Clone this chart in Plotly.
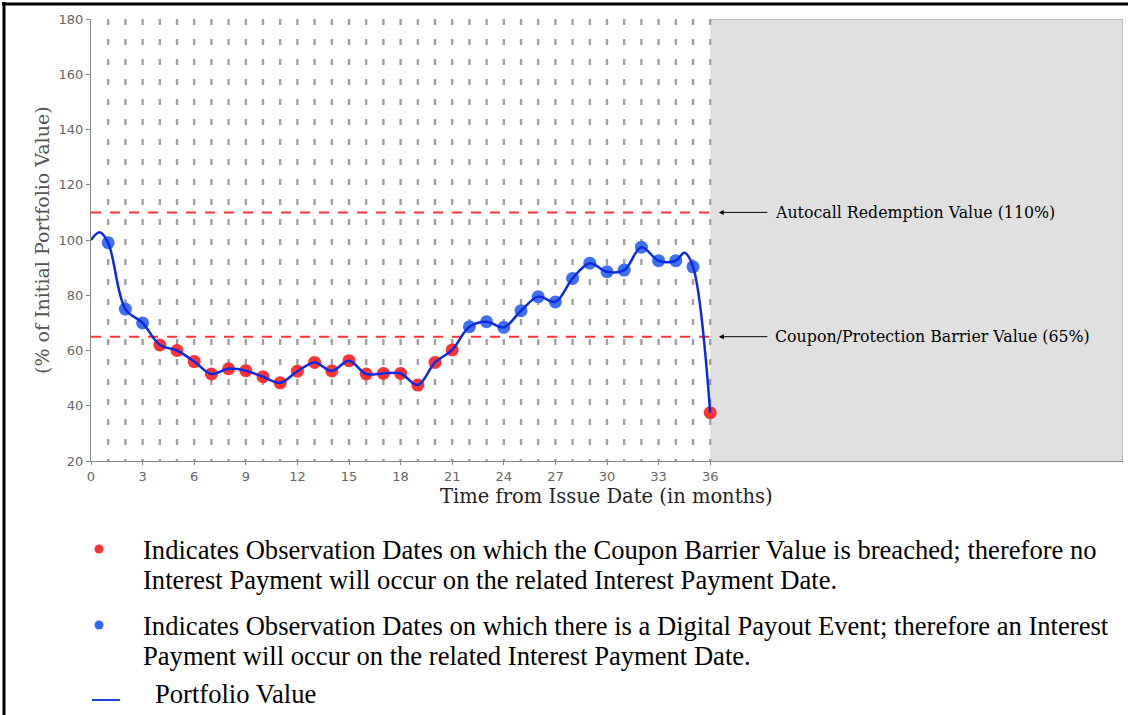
import plotly.graph_objects as go

# ---------------- data ----------------
months = list(range(1, 37))
values = [99, 75, 70, 62, 60, 56, 51.5, 53.4, 52.7, 50.5, 48.3, 52.5,
          55.7, 52.6, 56.3, 51.5, 51.7, 51.7, 47.5, 55.7, 60.2, 68.6, 70.4, 68.4,
          74.4, 79.5, 77.6, 86.1, 91.6, 88.5, 89.1, 97.4, 92.5, 92.5, 90.3, 37.5]
start_month = 0
start_value = 100
# extra readings of the portfolio curve between observation dates
curve_extra_months = [0.5, 34.5]
curve_extra_values = [102.8, 95.4]
autocall_level = 110
barrier_level = 65
maturity_month = 36
x_max = 60
y_min, y_max = 20, 180
x_tick_vals = list(range(0, 37, 3))
x_tick_text = [str(v) for v in x_tick_vals]
y_tick_vals = list(range(20, 181, 20))

autocall_label = "Autocall Redemption Value (110%)"
barrier_label = "Coupon/Protection Barrier Value (65%)"
legend_lines = [
    "Indicates Observation Dates on which the Coupon Barrier Value is breached; therefore no",
    "Interest Payment will occur on the related Interest Payment Date.",
    "Indicates Observation Dates on which there is a Digital Payout Event; therefore an Interest",
    "Payment will occur on the related Interest Payment Date.",
]
legend_line_label = "Portfolio Value"

RED = "#ff3333"
BLUE_MK = "#3f70f0"
BLUE_LN = "#0a2ae6"

# ---------------- pixel helpers (layout only) ----------------
L, R, T, B = 91, 1123, 19, 461
W, H = R - L, B - T


def px(x):
    return (x - L) / W


def py(y):
    return (B - y) / H


fig = go.Figure()

# vertical dashed month lines
gx, gy = [], []
for m in months:
    gx += [m, m, None]
    gy += [y_max, y_min, None]
fig.add_trace(go.Scatter(x=gx, y=gy, mode="lines",
                         line=dict(color="#a0a0a0", width=2.4, dash="6px,14px"),
                         hoverinfo="skip"))

# barrier lines
for lvl in (autocall_level, barrier_level):
    fig.add_trace(go.Scatter(x=[start_month, maturity_month], y=[lvl, lvl], mode="lines",
                             line=dict(color=RED, width=2, dash="10px,9px"),
                             hoverinfo="skip"))

# observation markers
colors = [RED if v < barrier_level else BLUE_MK for v in values]
fig.add_trace(go.Scatter(x=months, y=values, mode="markers",
                         marker=dict(color=colors, size=13, line=dict(width=0))))

# portfolio line
pts = sorted(list(zip([start_month] + months, [start_value] + values)) +
             list(zip(curve_extra_months, curve_extra_values)))
fig.add_trace(go.Scatter(x=[p[0] for p in pts], y=[p[1] for p in pts], mode="lines",
                         line=dict(color=BLUE_LN, width=2.5, shape="spline", smoothing=1)))

shapes = [
    # grey region after maturity
    dict(type="rect", xref="x", yref="y", x0=maturity_month, x1=x_max, y0=y_min, y1=y_max,
         fillcolor="#e0e0e0", line=dict(width=0), layer="below"),
    dict(type="path", xref="x", yref="y",
         path=f"M{maturity_month},{y_max} L{x_max},{y_max} L{x_max},{y_min}",
         line=dict(color="#999999", width=1)),
    # outer frame
    dict(type="line", xref="paper", yref="paper", x0=px(2), x1=px(1130), y0=py(4), y1=py(4),
         line=dict(color="black", width=3)),
    dict(type="line", xref="paper", yref="paper", x0=px(4), x1=px(4), y0=py(2), y1=py(716),
         line=dict(color="black", width=3)),
    # legend bullets
    dict(type="circle", xref="paper", yref="paper", x0=px(94.5), x1=px(103.5),
         y0=py(553.5), y1=py(544.5), fillcolor=RED, line=dict(width=0)),
    dict(type="circle", xref="paper", yref="paper", x0=px(94.5), x1=px(103.5),
         y0=py(629.5), y1=py(620.5), fillcolor="#3366ff", line=dict(width=0)),
    dict(type="line", xref="paper", yref="paper", x0=px(92), x1=px(120), y0=py(700), y1=py(700),
         line=dict(color="#1f3fd8", width=2)),
]

ann = []
serif = "DejaVu Serif"
for lvl, label in ((autocall_level, autocall_label), (barrier_level, barrier_label)):
    ann.append(dict(xref="x", yref="y", x=maturity_month + 0.5, y=lvl, text="",
                    showarrow=True, axref="pixel", ayref="pixel", ax=50, ay=0,
                    arrowhead=2, arrowsize=1, arrowwidth=1, arrowcolor="black"))
    ann.append(dict(xref="paper", yref="y", x=px(773), y=lvl, text=label, showarrow=False,
                    xanchor="left", yanchor="middle",
                    font=dict(family=serif, size=15.8, color="black")))

ann.append(dict(xref="paper", yref="paper", x=px(42), y=py(240), text="(% of Initial Portfolio Value)",
                textangle=-90, showarrow=False, xanchor="center", yanchor="middle",
                font=dict(family=serif, size=19, color="#555555")))
ann.append(dict(xref="paper", yref="paper", x=px(606), y=py(496), text="Time from Issue Date (in months)",
                showarrow=False, xanchor="center", yanchor="middle",
                font=dict(family=serif, size=19.5, color="#222222")))

for text, ypix in zip(legend_lines, [550, 580, 626, 656]):
    ann.append(dict(xref="paper", yref="paper", x=px(141), y=py(ypix), text=text, showarrow=False,
                    xanchor="left", yanchor="middle",
                    font=dict(family="Liberation Serif", size=26.6, color="black")))
ann.append(dict(xref="paper", yref="paper", x=px(153), y=py(694), text=legend_line_label,
                showarrow=False, xanchor="left", yanchor="middle",
                font=dict(family="Liberation Serif", size=26.6, color="black")))

fig.update_layout(
    width=1128, height=715,
    margin=dict(l=L, r=1128 - R, t=T, b=715 - B),
    paper_bgcolor="white", plot_bgcolor="white",
    showlegend=False, hovermode=False,
    shapes=shapes, annotations=ann,
    xaxis=dict(range=[0, x_max], tickvals=x_tick_vals, ticktext=x_tick_text,
               showgrid=False, zeroline=False, showline=True, linecolor="#888888",
               ticks="outside", ticklen=3, tickcolor="#888888",
               tickfont=dict(family="DejaVu Sans", size=13, color="#666666")),
    yaxis=dict(range=[y_min, y_max], tickvals=y_tick_vals,
               showgrid=False, zeroline=False, showline=True, linecolor="#888888",
               ticks="outside", ticklen=4, tickcolor="#888888",
               tickfont=dict(family="DejaVu Sans", size=13, color="#666666")),
)

fig.write_html("out.html", config={"displayModeBar": False},
               post_script="document.body.style.margin='0';document.body.style.overflow='hidden';")
